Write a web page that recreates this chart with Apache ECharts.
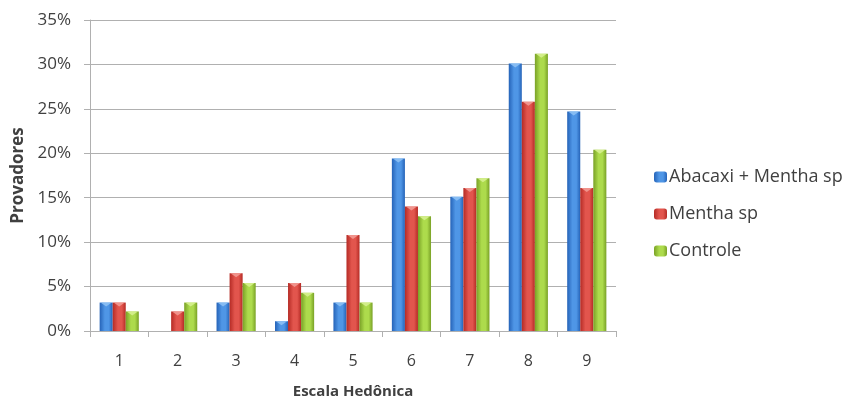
<!DOCTYPE html>
<html>
<head>
<meta charset="utf-8">
<title>Escala Hedônica</title>
<script src="https://cdn.jsdelivr.net/npm/echarts@6/dist/echarts.min.js"></script>
<style>
  html, body { margin: 0; padding: 0; background: #ffffff; }
  #chart { width: 844px; height: 397px; }
</style>
</head>
<body>
<div id="chart"></div>
<script>
// Hedonic scale scores and share of tasters (%) per sample
const categories = ['1', '2', '3', '4', '5', '6', '7', '8', '9'];
const abacaxiMentha = [3.2, 0, 3.2, 1.1, 3.2, 19.4, 15.1, 30.1, 24.7];
const mentha = [3.2, 2.2, 6.5, 5.4, 10.8, 14.0, 16.1, 25.8, 16.1];
const controle = [2.2, 3.2, 5.4, 4.3, 3.2, 12.9, 17.2, 31.2, 20.4];
const seriesNames = ['Abacaxi + Mentha sp', 'Mentha sp', 'Controle'];
const yTicks = [0, 5, 10, 15, 20, 25, 30, 35];

const palette = [
  { edge: '#2563b8', mid: '#4f96e6', cap: '#8cc0f4' },
  { edge: '#b52b25', mid: '#e2554d', cap: '#f29a94' },
  { edge: '#79a126', mid: '#addb4c', cap: '#d6f08f' }
];
const CATEGORY_GAP = 0.33;
const FONT = 'Open Sans';
const TEXT = '#404040';
const GRID = '#b0b0b0';

function barFill(p) {
  return new echarts.graphic.LinearGradient(0, 0, 1, 0, [
    { offset: 0, color: p.edge },
    { offset: 0.4, color: p.mid },
    { offset: 0.7, color: p.mid },
    { offset: 1, color: p.edge }
  ]);
}

const allValues = [abacaxiMentha, mentha, controle];

const barSeries = allValues.map((vals, i) => ({
  name: seriesNames[i],
  type: 'bar',
  data: vals,
  barGap: '0%',
  barCategoryGap: (CATEGORY_GAP * 100) + '%',
  itemStyle: { color: barFill(palette[i]) },
  emphasis: { disabled: true }
}));

// Bevelled caps on top of each bar
const capData = [];
allValues.forEach((vals, s) => {
  vals.forEach((v, c) => { if (v > 0) capData.push([c, v, s]); });
});

const capSeries = {
  type: 'custom',
  data: capData,
  z: 5,
  silent: true,
  renderItem: function (params, api) {
    const c = api.value(0), v = api.value(1), s = api.value(2);
    const pt = api.coord([c, v]);
    const band = api.size([1, 0])[0];
    const w = band * (1 - CATEGORY_GAP) / 3;
    const x0 = pt[0] - 1.5 * w + s * w;
    const y = pt[1];
    const h = Math.min(4, Math.max(1, api.coord([c, 0])[1] - y));
    return {
      type: 'polygon',
      shape: { points: [[x0 + 1, y], [x0 + w - 1, y], [x0 + w * 0.5, y + h]] },
      style: { fill: palette[s].cap, opacity: 0.9 }
    };
  }
};

const chart = echarts.init(document.getElementById('chart'), null, { renderer: 'canvas' });
chart.setOption({
  backgroundColor: '#ffffff',
  animation: false,
  textStyle: { fontFamily: FONT },
  grid: { left: 90, right: 228, top: 20, bottom: 66, outerBoundsMode: 'none', containLabel: false },
  legend: {
    orient: 'vertical',
    left: 649,
    top: 163,
    itemWidth: 13,
    itemHeight: 11,
    itemGap: 19,
    data: seriesNames.map((n, i) => ({ name: n, itemStyle: { color: barFill(palette[i]) } })),
    textStyle: { fontFamily: FONT, fontSize: 18, color: TEXT, padding: [0, 0, 0, -3] }
  },
  xAxis: {
    type: 'category',
    data: categories,
    name: 'Escala Hedônica',
    nameLocation: 'middle',
    nameGap: 53,
    nameTextStyle: { fontFamily: FONT, fontSize: 15, fontWeight: 'bold', color: TEXT },
    axisLine: { lineStyle: { color: GRID } },
    axisTick: { show: true, length: 6, alignWithLabel: false, lineStyle: { color: GRID } },
    axisLabel: { fontFamily: FONT, fontSize: 16, color: TEXT, margin: 22 }
  },
  yAxis: {
    type: 'value',
    min: yTicks[0],
    max: yTicks[yTicks.length - 1],
    interval: yTicks[1] - yTicks[0],
    name: 'Provadores',
    nameLocation: 'middle',
    nameGap: 63,
    nameRotate: 90,
    nameTextStyle: { fontFamily: FONT, fontSize: 17, fontWeight: 'bold', color: TEXT },
    axisLine: { show: true, lineStyle: { color: GRID } },
    axisTick: { show: true, length: 6, lineStyle: { color: GRID } },
    splitLine: { lineStyle: { color: GRID } },
    axisLabel: { fontFamily: FONT, fontSize: 17, color: TEXT, margin: 19, formatter: '{value}%' }
  },
  series: [...barSeries, capSeries]
});
</script>
</body>
</html>
